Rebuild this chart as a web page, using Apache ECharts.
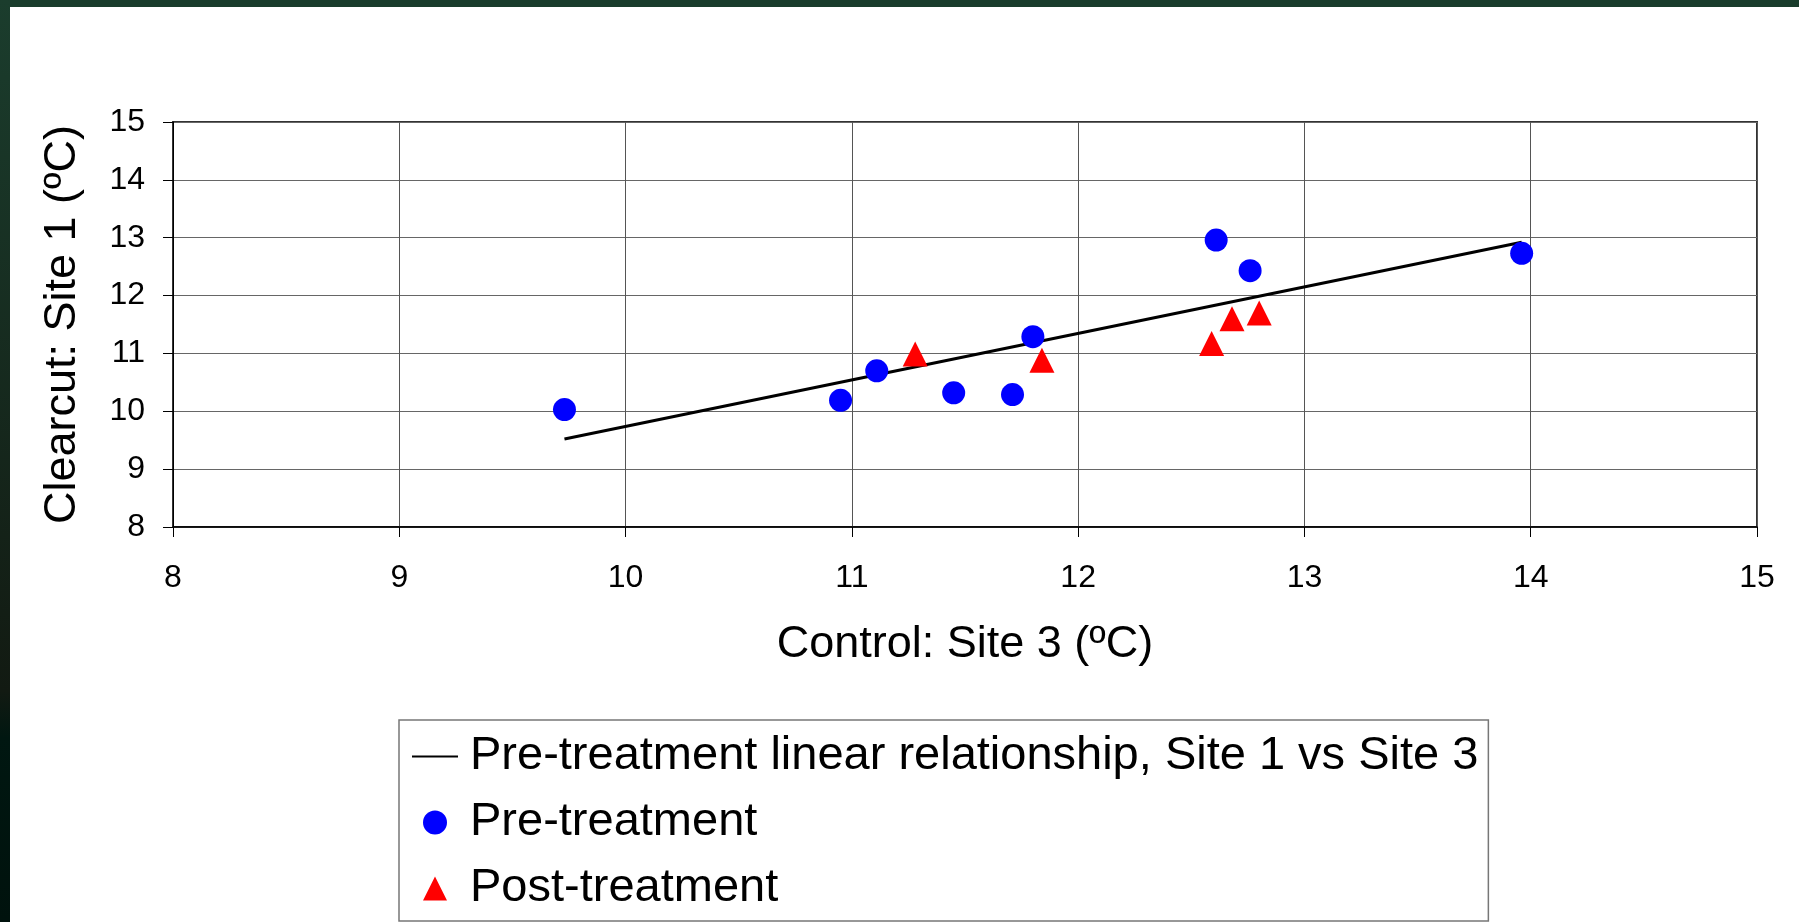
<!DOCTYPE html>
<html>
<head>
<meta charset="utf-8">
<script src="https://cdn.jsdelivr.net/npm/echarts@6/dist/echarts.min.js"></script>
<style>
	html, body { margin: 0; padding: 0; background: #fff; }
	#site_chart { width: 1799px; height: 922px; }
</style>
</head>
<body>
<div id="site_chart"></div>
<script>
	var ticks = [8, 9, 10, 11, 12, 13, 14, 15]

	// pre-treatment points (control site 3, clearcut site 1)
	var preX = [9.73, 10.95, 11.11, 11.45, 11.71, 11.80, 12.61, 12.76, 13.96]
	var preY = [10.03, 10.19, 10.70, 10.32, 10.29, 11.29, 12.96, 12.43, 12.73]

	// post-treatment points
	var postX = [11.28, 11.84, 12.59, 12.68, 12.80]
	var postY = [10.99, 10.88, 11.17, 11.60, 11.70]

	// fitted line, two ends
	var lineX = [9.73, 13.96]
	var lineY = [9.52, 12.92]

	var lineName = 'Pre-treatment linear relationship, Site 1 vs Site 3'
	var preName = 'Pre-treatment'
	var postName = 'Post-treatment'

	function pairs(xs, ys){
		return xs.map(function(x, i){
			return [x, ys[i]]
		})
	}

	var font = "'Liberation Sans', Arial, sans-serif"
	var siteChart = echarts.init(document.getElementById('site_chart'))

	function getOption(){
		return {
			animation: false,
			backgroundColor: '#fff',
			textStyle: { fontFamily: font },
			graphic: [
				{
					type: 'rect',
					z: 100,
					shape: { x: 0, y: 0, width: 1799, height: 7 },
					style: { fill: '#1a3c2c' }
				},
				{
					type: 'rect',
					z: 100,
					shape: { x: 0, y: 0, width: 10, height: 922 },
					style: {
						fill: new echarts.graphic.LinearGradient(0, 0, 0, 1, [
							{ offset: 0, color: '#1b3d2d' },
							{ offset: 0.75, color: '#121a12' },
							{ offset: 0.8, color: '#001711' },
							{ offset: 1, color: '#00120d' }
						])
					}
				}
			],
			grid: {
				left: 173,
				right: 42,
				top: 122,
				bottom: 395,
				show: true,
				borderColor: '#333',
				borderWidth: 2,
				backgroundColor: '#fff'
			},
			legend: {
				orient: 'vertical',
				left: 399,
				top: 720,
				padding: [13, 10, 9, 13],
				borderColor: '#777',
				borderWidth: 1.5,
				itemWidth: 46,
				itemHeight: 24,
				itemGap: 19,
				symbolKeepAspect: true,
				selectedMode: false,
				textStyle: {
					fontFamily: font,
					fontSize: 47,
					lineHeight: 47,
					color: '#000',
					padding: [0, 0, 0, 7]
				},
				data: [
					{ name: lineName, icon: 'path://M0,0L46,0L46,2L0,2Z' },
					{ name: preName, icon: 'circle' },
					{ name: postName, icon: 'path://M12,0L24,24L0,24Z' }
				]
			},
			xAxis: {
				type: 'value',
				min: ticks[0],
				max: ticks[ticks.length - 1],
				interval: 1,
				name: 'Control: Site 3 (ºC)',
				nameLocation: 'middle',
				nameGap: 95,
				nameTextStyle: { fontFamily: font, fontSize: 45, color: '#000' },
				axisLine: { lineStyle: { color: '#000', width: 1.5 } },
				axisTick: { show: true, inside: false, length: 10, lineStyle: { color: '#000', width: 1 } },
				axisLabel: { fontFamily: font, fontSize: 32, color: '#000', margin: 35 },
				splitLine: { show: true, lineStyle: { color: '#555', width: 1 } }
			},
			yAxis: {
				type: 'value',
				min: ticks[0],
				max: ticks[ticks.length - 1],
				interval: 1,
				name: 'Clearcut: Site 1 (ºC)',
				nameLocation: 'middle',
				nameGap: 88,
				nameTextStyle: { fontFamily: font, fontSize: 45, color: '#000' },
				axisLine: { show: true, lineStyle: { color: '#000', width: 1 } },
				axisTick: { show: true, inside: false, length: 10, lineStyle: { color: '#000', width: 1 } },
				axisLabel: { fontFamily: font, fontSize: 32, color: '#000', margin: 28 },
				splitLine: { show: true, lineStyle: { color: '#666', width: 1.2 } }
			},
			series: [
				{
					name: lineName,
					type: 'line',
					data: pairs(lineX, lineY),
					symbol: 'none',
					showSymbol: false,
					itemStyle: { color: '#000' },
					lineStyle: { color: '#000', width: 3 },
					z: 3
				},
				{
					name: preName,
					type: 'scatter',
					data: pairs(preX, preY),
					symbol: 'circle',
					symbolSize: 23,
					itemStyle: { color: '#0000ff', opacity: 1 },
					z: 4
				},
				{
					name: postName,
					type: 'scatter',
					data: pairs(postX, postY),
					symbol: 'triangle',
					symbolSize: 25,
					itemStyle: { color: '#ff0000', opacity: 1 },
					z: 4
				}
			]
		}
	}

	siteChart.setOption(getOption())
</script>
</body>
</html>
